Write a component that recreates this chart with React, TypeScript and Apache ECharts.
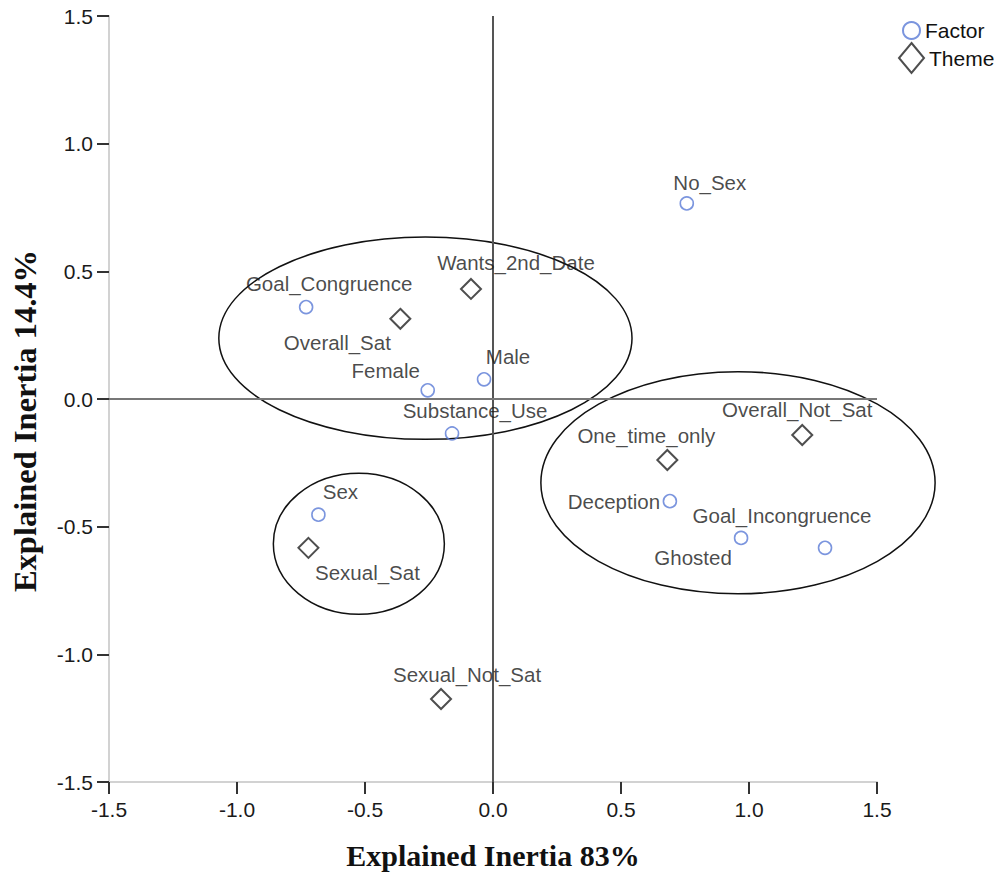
import React, { useEffect, useRef } from "react";
import * as echarts from "echarts";

// ---- Data ----
const factorNames = [
  "Goal_Congruence",
  "Female",
  "Male",
  "Substance_Use",
  "No_Sex",
  "Deception",
  "Ghosted",
  "Goal_Incongruence",
  "Sex",
];
const factorX = [-0.73, -0.255, -0.035, -0.16, 0.757, 0.691, 0.969, 1.297, -0.682];
const factorY = [0.36, 0.034, 0.077, -0.135, 0.766, -0.4, -0.544, -0.583, -0.453];

const themeNames = [
  "Wants_2nd_Date",
  "Overall_Sat",
  "Overall_Not_Sat",
  "One_time_only",
  "Sexual_Sat",
  "Sexual_Not_Sat",
];
const themeX = [-0.086, -0.362, 1.208, 0.681, -0.721, -0.203];
const themeY = [0.431, 0.314, -0.141, -0.239, -0.583, -1.175];

// Cluster ellipses in data units
const ellipseCX = [-0.264, 0.957, -0.524];
const ellipseCY = [0.238, -0.328, -0.567];
const ellipseRX = [0.807, 0.77, 0.334];
const ellipseRY = [0.396, 0.435, 0.276];

const axisTicks = [-1.5, -1.0, -0.5, 0.0, 0.5, 1.0, 1.5];
const xTitle = "Explained Inertia 83%";
const yTitle = "Explained Inertia 14.4%";

// Label placement (pixels, relative to the point)
const factorLabelOffsets = [
  [23, -24],
  [-42, -20],
  [24, -23],
  [23, -23],
  [23, -21],
  [-56, 0],
  [-48, 20],
  [-43, -32],
  [22, -23],
];
const themeLabelOffsets = [
  [45, -26],
  [-63, 24],
  [-5, -26],
  [-21, -25],
  [59, 25],
  [26, -25],
];

const SANS = "'Liberation Sans', Arial, sans-serif";
const SERIF = "'Liberation Serif', 'Times New Roman', serif";
const FACTOR_COLOR = "#5a7ad6";

export default function App() {
  const ref = useRef<HTMLDivElement>(null);

  useEffect(() => {
    document.body.style.margin = "0";
    if (!ref.current) return;
    const chart = echarts.init(ref.current, null, { renderer: "svg" });

    const labelStyle = {
      show: true,
      position: "inside",
      color: "#1a1a1a",
      fontSize: 20.5,
      fontFamily: SANS,
      formatter: (p: any) => p.name,
    };

    const factorData = factorNames.map((n, i) => ({
      name: n,
      value: [factorX[i], factorY[i]],
      label: { offset: factorLabelOffsets[i] },
    }));
    const themeData = themeNames.map((n, i) => ({
      name: n,
      value: [themeX[i], themeY[i]],
      label: { offset: themeLabelOffsets[i] },
    }));
    const ellipseData = ellipseCX.map((cx, i) => [cx, ellipseCY[i], ellipseRX[i], ellipseRY[i]]);

    const axisCommon = {
      type: "value",
      min: axisTicks[0],
      max: axisTicks[axisTicks.length - 1],
      interval: 0.5,
      splitLine: { show: false },
      axisLine: { show: true, onZero: false, lineStyle: { color: "#d2d2d2", width: 2 } },
      axisTick: { show: true, inside: false, length: 12, lineStyle: { color: "#333", width: 2 } },
      nameTextStyle: { fontFamily: SERIF, fontWeight: "bold", color: "#111" },
    };

    chart.setOption({
      animation: false,
      backgroundColor: "#fff",
      grid: { left: 109, right: 117, top: 16, bottom: 90, containLabel: false },
      xAxis: {
        ...axisCommon,
        name: xTitle,
        nameLocation: "middle",
        nameGap: 58,
        nameTextStyle: { ...axisCommon.nameTextStyle, fontSize: 30 },
        axisLabel: {
          margin: 17,
          color: "#1a1a1a",
          fontSize: 21,
          fontFamily: SANS,
          formatter: (v: number) => v.toFixed(1),
        },
      },
      yAxis: {
        ...axisCommon,
        name: yTitle,
        nameLocation: "middle",
        nameGap: 68,
        nameTextStyle: { ...axisCommon.nameTextStyle, fontSize: 32.5, padding: [0, 44, 0, 0] },
        axisLabel: {
          margin: 16,
          color: "#1a1a1a",
          fontSize: 21,
          fontFamily: SANS,
          padding: [6, 0, 0, 0],
          formatter: (v: number) => v.toFixed(1),
        },
      },
      legend: [
        {
          data: ["Factor"],
          orient: "vertical",
          left: 897,
          top: 15,
          padding: 5,
          itemWidth: 17,
          itemHeight: 17,
          itemGap: 0,
          textStyle: { fontSize: 21, fontFamily: SANS, color: "#111", padding: [4, 0, 0, 0] },
          selectedMode: false,
        },
        {
          data: ["Theme"],
          orient: "vertical",
          left: 893,
          top: 37,
          padding: 5,
          itemWidth: 25,
          itemHeight: 30,
          itemGap: 0,
          textStyle: { fontSize: 21, fontFamily: SANS, color: "#111", padding: [3, 0, 0, 0] },
          selectedMode: false,
        },
      ],
      series: [
        {
          type: "custom",
          name: "clusters",
          silent: true,
          clip: false,
          encode: { x: 0, y: 1 },
          data: ellipseData,
          renderItem: (params: any, api: any) => {
            const c = api.coord([api.value(0), api.value(1)]);
            const s = api.size([api.value(2), api.value(3)]);
            return {
              type: "ellipse",
              shape: { cx: c[0], cy: c[1], rx: s[0], ry: s[1] },
              style: { fill: "none", stroke: "#111", lineWidth: 1.5 },
            };
          },
          markLine: {
            silent: true,
            symbol: ["none", "none"],
            label: { show: false },
            data: [
              { xAxis: 0, lineStyle: { color: "#555", width: 2, type: "solid" } },
              { yAxis: 0, lineStyle: { color: "#777", width: 2, type: "solid" } },
            ],
          },
        },
        {
          type: "scatter",
          name: "Factor",
          symbol: "circle",
          symbolSize: 13,
          itemStyle: { color: "transparent", borderColor: FACTOR_COLOR, borderWidth: 1.6 },
          label: labelStyle,
          data: factorData,
          z: 5,
        },
        {
          type: "scatter",
          name: "Theme",
          symbol: "diamond",
          symbolSize: 20,
          itemStyle: { color: "transparent", borderColor: "#222", borderWidth: 2 },
          label: labelStyle,
          data: themeData,
          z: 5,
        },
      ],
    });

    return () => chart.dispose();
  }, []);

  return <div ref={ref} style={{ width: 994, height: 875 }} />;
}
